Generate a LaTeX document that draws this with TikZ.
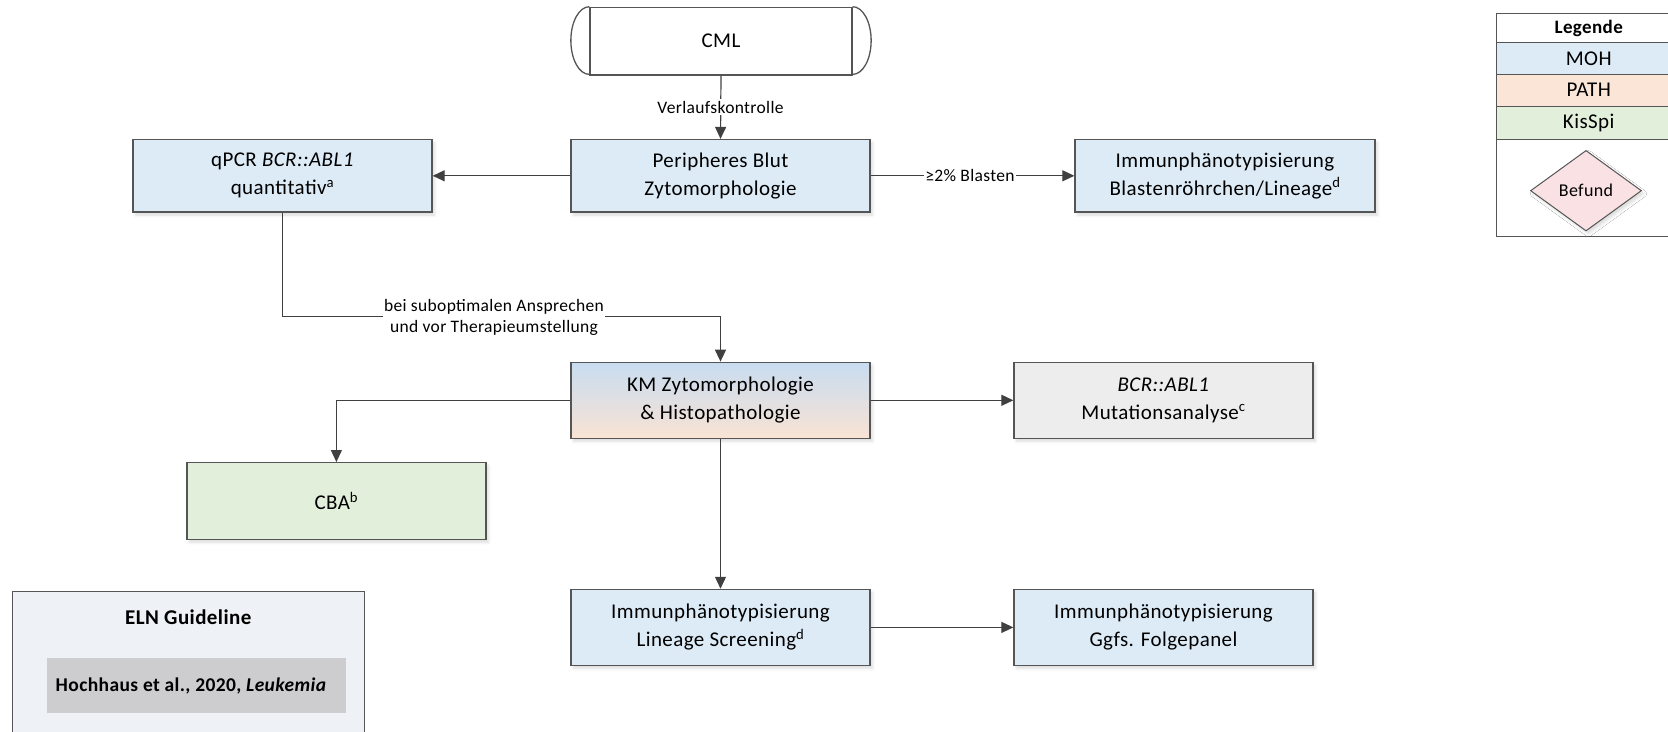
\documentclass[tikz,border=0pt]{standalone}
\usepackage{fontspec}
\setmainfont{Carlito}[LetterSpace=2]
\usetikzlibrary{arrows.meta,shapes.geometric,shadows.blur}

% palette
\definecolor{mohblue}{HTML}{DDEBF7}
\definecolor{pathorange}{HTML}{FBE5D6}
\definecolor{kisgreen}{HTML}{E2EFDA}
\definecolor{befundpink}{HTML}{F9E1E4}
\definecolor{mutgray}{HTML}{EDEDED}
\definecolor{elnbg}{HTML}{EEF1F5}
\definecolor{refgray}{HTML}{CDCDCF}
\definecolor{edgegray}{HTML}{555555}
\definecolor{linegray}{HTML}{404040}
\definecolor{kmtop}{HTML}{C8DCF0}
\definecolor{kmbot}{HTML}{F9E3D4}

\newcommand\boxfont{\fontsize{21}{28}\selectfont}
\newcommand\lblfont{\fontsize{17.5}{21.5}\selectfont}

\tikzset{
  softshadow/.style={blur shadow={shadow xshift=2.5pt,shadow yshift=-3pt,
      shadow blur radius=3pt,shadow opacity=14}},
  stepbox/.style={draw=edgegray, line width=1.3pt, rectangle, inner sep=0pt,
      minimum width=299pt, minimum height=76pt, align=center, font=\boxfont,
      softshadow},
  conn/.style={draw=linegray, line width=1.2pt,
      -{Triangle[length=12pt,width=11pt]}},
  lbl/.style={fill=white, font=\lblfont, inner sep=1.5pt, align=center},
  legrow/.style={draw=edgegray, line width=1pt, rectangle, inner sep=0pt,
      minimum width=184pt, font=\fontsize{21}{24}\selectfont},
}

\begin{document}
\begin{tikzpicture}[x=1pt,y=-1pt]
\useasboundingbox (0,0) rectangle (1668,731);
\clip (0,0) rectangle (1668,731);

% start terminator
\node[draw=edgegray, line width=1.3pt, fill=white, minimum width=262pt,
      minimum height=67.7pt, inner sep=0pt, font=\boxfont] (cml) at (721,41.2) {CML};
\draw[edgegray, line width=1.3pt] (cml.north west)
    arc[start angle=90, end angle=270, x radius=18.5pt, y radius=33.85pt];
\draw[edgegray, line width=1.3pt] (cml.north east)
    arc[start angle=90, end angle=-90, x radius=18.5pt, y radius=33.85pt];

% process boxes
\node[stepbox, fill=mohblue, minimum height=72.5pt] (pb) at (720.5,175.8)
    {Peripheres Blut\\Zytomorphologie};
\node[stepbox, fill=mohblue, minimum height=72.5pt] (qpcr) at (282.5,175.8)
    {qPCR \textit{BCR::ABL1}\\quantitativ\textsuperscript{a}};
\node[stepbox, fill=mohblue, minimum height=72.5pt, minimum width=300pt] (blast) at (1225,175.8)
    {Immunphänotypisierung\\Blastenröhrchen/Lineage\textsuperscript{d}};
\node[stepbox, top color=kmtop, bottom color=kmbot] (km) at (720.5,400.3)
    {KM Zytomorphologie\\\& Histopathologie};
\node[stepbox, fill=mutgray] (mut) at (1163.5,400.3)
    {\textit{BCR::ABL1}\\Mutationsanalyse\textsuperscript{c}};
\node[stepbox, fill=kisgreen, minimum height=76.6pt] (cba) at (336.4,501)
    {CBA\textsuperscript{b}};
\node[stepbox, fill=mohblue] (lin) at (720.5,627.4)
    {Immunphänotypisierung\\Lineage Screening\textsuperscript{d}};
\node[stepbox, fill=mohblue] (folg) at (1163.5,627.4)
    {Immunphänotypisierung\\Ggfs. Folgepanel};

% connectors
\draw[conn] (cml.south) -- (pb.north);
\node[lbl] (vk) at (720.5,107) {Verlaufskontrolle};
\draw[conn] (pb.west) -- (qpcr.east);
\draw[conn] (pb.east) -- (blast.west);
\node[lbl] (blasten) at (970,175.8) {≥2\% Blasten};
\coordinate (b1) at (282.5,316.7);
\coordinate (b2) at (720.5,316.7);
\draw[conn] (qpcr.south) -- (b1) -- (b2) -- (km.north);
\node[lbl] (subopt) at (494,317.5) {bei suboptimalen Ansprechen\\und vor Therapieumstellung};
\draw[conn] (km.east) -- (mut.west);
\draw[conn] (km.west) -| (cba.north);
\draw[conn] (km.south) -- (lin.north);
\draw[conn] (lin.east) -- (folg.west);

% legend
\node[legrow, fill=white, minimum height=29.4pt, font=\fontsize{19}{22}\selectfont\bfseries]
    (legtitle) at (1588.7,28) {Legende};
\node[legrow, fill=mohblue, minimum height=31.3pt] (legmoh) at (1588.7,58.35) {MOH};
\node[legrow, fill=pathorange, minimum height=32pt] (legpath) at (1588.7,90) {PATH};
\node[legrow, fill=kisgreen, minimum height=33.3pt] (legkis) at (1588.7,122.65) {KisSpi};
\node[legrow, fill=white, minimum height=97.4pt] (legfoot) at (1588.7,188) {};
\node[diamond, draw=edgegray, line width=1pt, fill=befundpink, minimum width=111pt,
      minimum height=80.6pt, inner sep=0pt, font=\fontsize{18}{20}\selectfont,
      softshadow] (befund) at (1586,190.7) {Befund};

% guideline reference panel
\node[draw=edgegray, line width=1pt, fill=elnbg, rectangle, minimum width=352pt,
      minimum height=160pt, inner sep=0pt] (eln) at (188.3,671) {};
\node[font=\fontsize{21}{24}\selectfont\bfseries] (elntitle) at (188.3,617) {ELN Guideline};
\node[fill=refgray, rectangle, minimum width=299pt, minimum height=55.6pt, inner sep=0pt]
    (elnbox) at (196.2,685.5) {};
\node[anchor=west, font=\fontsize{19.5}{22}\selectfont\bfseries, inner sep=0pt]
    (elnref) at (55.5,686) {Hochhaus et al., 2020, \textit{Leukemia}};
\end{tikzpicture}
\end{document}
